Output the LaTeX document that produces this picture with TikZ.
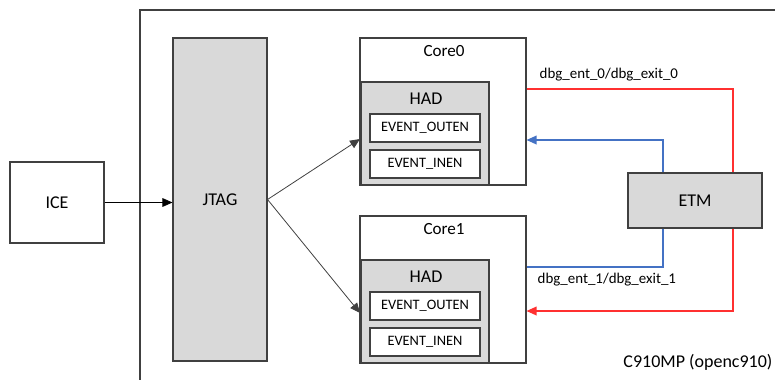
\documentclass[tikz,border=0pt]{standalone}
\usepackage{fontspec}
\setmainfont{Carlito}
\usetikzlibrary{arrows.meta}

\newcommand{\pxu}{0.75pt}
\definecolor{blkgray}{HTML}{D9D9D9}
\definecolor{edgegray}{HTML}{404040}
\definecolor{sigred}{HTML}{FF3030}
\definecolor{sigblue}{HTML}{4472C4}

\tikzset{
  blk/.style={draw=edgegray, line width=0.8pt, inner sep=0pt},
  gblk/.style={blk, fill=blkgray},
  tip/.style={-{Triangle[length=7.5pt,width=6.5pt]}},
  redsig/.style={draw=sigred, line width=1pt},
  bluesig/.style={draw=sigblue, line width=1pt},
}

\begin{document}
\begin{tikzpicture}[x=\pxu, y=-\pxu, font=\fontsize{13.5}{15}\selectfont]
        \useasboundingbox (0,0) rectangle (775,379);
        \clip (0,0) rectangle (775,379);
        % chip frame, runs off the right and bottom
        \draw[edgegray, line width=0.9pt] (140,10) rectangle (800,400);
        \node[anchor=east, inner sep=1pt] (chip) at (774,362) {C910MP (openc910)};

        \node[blk, minimum width=94*\pxu, minimum height=81*\pxu] (ICE) at (57,202.5) {ICE};
        \node[gblk, minimum width=94*\pxu, minimum height=323*\pxu] (JTAG) at (220,199.5) {JTAG};
        \node[gblk, minimum width=134*\pxu, minimum height=55*\pxu] (ETM) at (695,200.5) {ETM};

        \foreach \i/\dy in {0/0, 1/178} {
            \node[blk, fill=white, minimum width=166*\pxu, minimum height=147*\pxu] (Core\i) at (443,111.5+\dy) {};
            \node[font=\fontsize{12.8}{14}\selectfont] at (444,51+\dy) {Core\i};
            \node[gblk, minimum width=128*\pxu, minimum height=103*\pxu] (HAD\i) at (425,133.5+\dy) {};
            \node at (426,99+\dy) {HAD};
            \node[blk, fill=white, minimum width=110*\pxu, minimum height=28*\pxu, font=\fontsize{10.8}{12}\selectfont] (OUTEN\i) at (425,128+\dy) {EVENT\_OUTEN};
            \node[blk, fill=white, minimum width=110*\pxu, minimum height=28*\pxu, font=\fontsize{10.8}{12}\selectfont] (INEN\i) at (425,164+\dy) {EVENT\_INEN};
        }

        % debug request from JTAG into the cores
        \coordinate (in0) at (360,139);
        \coordinate (in1) at (360,313);
        \draw[tip, line width=0.6pt] (ICE.east) -- (ICE.east -| JTAG.west);
        \draw[tip, draw=edgegray, line width=0.6pt] (JTAG.east) -- (in0);
        \draw[tip, draw=edgegray, line width=0.6pt] (JTAG.east) -- (in1);

        % ETM signals
        \draw[redsig] (Core0.east |- 0,89) -| ([xshift=38*\pxu]ETM.north);
        \draw[redsig, tip] ([xshift=38*\pxu]ETM.south) |- (Core1.east |- 0,311);
        \draw[bluesig, tip] ([xshift=-32*\pxu]ETM.north) |- (Core0.east |- 0,140);
        \draw[bluesig] ([xshift=-32*\pxu]ETM.south) |- (Core1.east |- 0,267);

        \node[anchor=west, font=\fontsize{11.2}{13}\selectfont] (lbl0) at (535,75) {dbg\_ent\_0/dbg\_exit\_0};
        \node[anchor=west, font=\fontsize{11.2}{13}\selectfont] (lbl1) at (533,280) {dbg\_ent\_1/dbg\_exit\_1};
    \end{tikzpicture}
\end{document}
